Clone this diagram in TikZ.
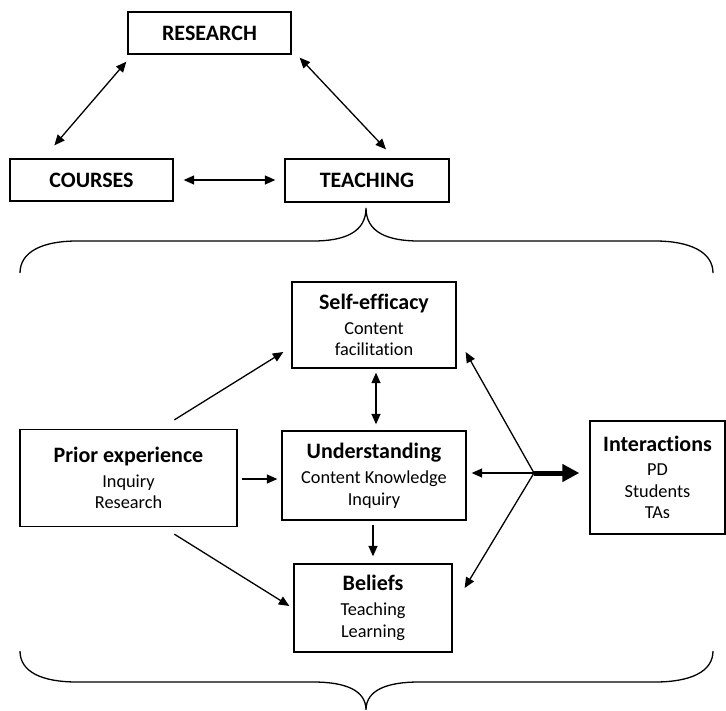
\documentclass[tikz,border=0pt]{standalone}
\usepackage{fontspec}
\setmainfont{Carlito}[Ligatures=NoCommon]
\usetikzlibrary{arrows.meta}
\newcommand\titlef{\fontsize{22}{26}\selectfont\bfseries}
\newcommand\bodyf{\fontsize{18.3}{21.5}\selectfont}
\begin{document}
\begin{tikzpicture}[x=1pt,y=-1pt,
  box/.style={draw=black, line width=1.3pt, inner sep=0pt, align=center, font=\bodyf},
  topbox/.style={draw=black, line width=1.3pt, inner sep=0pt, font=\titlef},
  arr/.style={line width=1.3pt, -{Triangle[length=10.5pt,width=9pt]}},
  darr/.style={line width=1.3pt, {Triangle[length=10.5pt,width=9pt]}-{Triangle[length=10.5pt,width=9pt]}},
  thickarr/.style={line width=5pt, -{Triangle[length=17pt,width=17pt]}},
  brace/.style={line width=1.3pt}]
\useasboundingbox (0,0) rectangle (726,710);

% top triangle
\node[topbox, minimum width=163pt, minimum height=42pt] (research) at (209.5,33) {RESEARCH};
\node[topbox, minimum width=163pt, minimum height=42pt] (courses) at (91.5,180) {COURSES};
\node[topbox, minimum width=164pt, minimum height=43pt] (teaching) at (367,180.5) {TEACHING};

\draw[darr] ([shift={(45,-13)}]courses.north west) -- ([shift={(-1,7)}]research.south west);
\draw[darr] ([shift={(8,3)}]research.south east) -- ([shift={(19,-9)}]teaching.north);
\draw[darr] ([shift={(10,0)}]courses.east) -- ([shift={(-9,-0.5)}]teaching.west);

% braces
\draw[brace] (20,273) .. controls (20,252) and (42,241) .. (77,241)
  -- (313,241) .. controls (345,241) and (366,232) .. (366,208)
  .. controls (366,232) and (387,241) .. (419,241)
  -- (655,241) .. controls (690,241) and (713,252) .. (713,273);
\draw[brace] (20,651) .. controls (20,672) and (42,682) .. (77,682)
  -- (313,682) .. controls (345,682) and (366,690) .. (366,710)
  .. controls (366,690) and (387,682) .. (419,682)
  -- (655,682) .. controls (690,682) and (713,672) .. (713,651);

% lower model
\node[box, minimum width=164pt, minimum height=86pt] (selfeff) at (374,325)
  {{\titlef Self-efficacy}\\[3.5pt]Content\\facilitation};
\node[box, minimum width=184pt, minimum height=89pt] (underst) at (374,475.5)
  {{\titlef Understanding}\\[3.5pt]Content Knowledge\\Inquiry};
\node[box, minimum width=217pt, minimum height=97pt] (prior) at (128.5,478)
  {{\titlef Prior experience}\\[3.5pt]Inquiry\\Research};
\node[box, minimum width=158pt, minimum height=88pt] (beliefs) at (373,608)
  {{\titlef Beliefs}\\[3.5pt]Teaching\\Learning};
\node[box, minimum width=135pt, minimum height=113pt] (interact) at (657.5,477.5)
  {{\titlef Interactions}\\[2.5pt]PD\\Students\\TAs};

\coordinate (j) at (534,473);

\draw[arr] ([shift={(155,-9)}]prior.north west) -- ([shift={(-8,27)}]selfeff.west);
\draw[arr] ([shift={(4,1)}]prior.east) -- ([shift={(-4,3.5)}]underst.west);
\draw[arr] ([shift={(155,7)}]prior.south west) -- ([shift={(-4,-2)}]beliefs.west);
\draw[darr] ([shift={(2,4)}]selfeff.south) -- ([shift={(2,-6)}]underst.north);
\draw[arr] ([shift={(-1,4)}]underst.south) -- ([shift={(0,-7)}]beliefs.north);

\draw[arr] (j) -- ([shift={(9,27)}]selfeff.east);
\draw[arr] (j) -- ([shift={(5,-2.5)}]underst.east);
\draw[arr] (j) -- ([shift={(12,-20)}]beliefs.east);
\draw[thickarr] (j) -- ([shift={(-10,-4.5)}]interact.west);
\end{tikzpicture}
\end{document}
